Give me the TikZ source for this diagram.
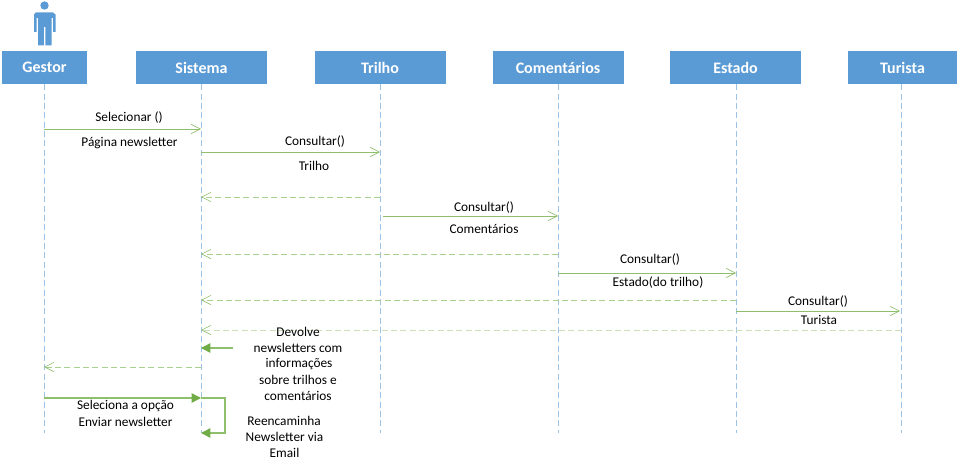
\documentclass[tikz,border=0pt]{standalone}
\usepackage{fontspec}
\setmainfont{Carlito}
\usetikzlibrary{arrows.meta}
\definecolor{hdr}{HTML}{5B9BD5}
\definecolor{lifec}{HTML}{9DC3E6}
\definecolor{grn}{HTML}{8FBF6C}
\definecolor{grnd}{HTML}{70AD47}
\definecolor{grnl}{HTML}{C9E0B6}
\definecolor{grnm}{HTML}{A9D18E}
\tikzset{
  x=0.75pt,y=-0.75pt,
  head/.style={fill=hdr,text=white,font=\bfseries\fontsize{12}{14}\selectfont,minimum height=24.75pt,inner sep=0pt,anchor=center},
  lifeline/.style={draw=lifec,dash pattern=on 4.5pt off 2.5pt,line width=.6pt},
  msg/.style={draw=grn,line width=.75pt,-{Straight Barb[length=7pt,width=7pt,line width=.5pt]}},
  ret/.style={draw=grnm,line width=.75pt,dash pattern=on 4.5pt off 2.5pt,-{Straight Barb[length=7pt,width=7pt,line width=.5pt,color=grn]}},
  sync/.style={draw=grn,line width=1.1pt,-{Triangle[length=7pt,width=7pt,color=grnd]}},
  lbl/.style={font=\fontsize{10}{12}\selectfont,text=black,inner sep=0pt,align=center},
}
\begin{document}
\begin{tikzpicture}
\useasboundingbox (0,0) rectangle (957,467);
% actor
\fill[hdr] (44.5,5.5) circle[radius=4.2];
\fill[hdr] (36,12.5) -- (53,12.5) -- (55.5,14.5) -- (55.5,32) -- (53,32) -- (53,18) -- (51.5,18) -- (51.5,45.5) -- (45.4,45.5) -- (45.4,27) -- (43.8,27) -- (43.8,45.5) -- (38,45.5) -- (38,18) -- (36.5,18) -- (36.5,32) -- (34,32) -- (34,14.5) -- cycle;
% heads
\node[head,minimum width=63.75pt] (g) at (44.5,67.5) {Gestor};
\node[head,minimum width=98.25pt] (s) at (201.5,67.5) {Sistema};
\node[head,minimum width=98.25pt] (t) at (380,67.5) {Trilho};
\node[head,minimum width=98.25pt] (c) at (558,67.5) {Comentários};
\node[head,minimum width=98.25pt] (e) at (735.5,67.5) {Estado};
\node[head,minimum width=81.75pt] (u) at (902.5,67.5) {Turista};
% lifeline ends
\coordinate (gb) at (44,433); \coordinate (sb) at (201,433); \coordinate (tb) at (380,433);
\coordinate (cb) at (558,433); \coordinate (eb) at (736,433); \coordinate (ub) at (901,433);
\draw[lifeline] (gb |- g.south) -- (gb);
\draw[lifeline] (sb |- s.south) -- (sb);
\draw[lifeline] (tb |- t.south) -- (tb);
\draw[lifeline] (cb |- c.south) -- (cb);
\draw[lifeline] (eb |- e.south) -- (eb);
\draw[lifeline] (ub |- u.south) -- (ub);
% free ends
\coordinate (tstart) at (383,216);
\coordinate (uend) at (900,311);
\coordinate (selfa) at (233,348);
\coordinate (loopa) at (225,398);
\coordinate (loopb) at (225,433);
% messages
\draw[msg] (gb |- 0,129) -- (sb |- 0,129);
\draw[msg] (sb |- 0,152) -- (tb |- 0,152);
\draw[ret] (tb |- 0,197) -- (sb |- 0,197);
\draw[msg] (tstart) -- (cb |- tstart);
\draw[ret] (cb |- 0,254) -- (sb |- 0,254);
\draw[msg] (cb |- 0,273) -- (eb |- 0,273);
\draw[ret] (eb |- 0,300) -- (sb |- 0,300);
\draw[msg] (eb |- uend) -- (uend);
\draw[ret,draw=grnl] (ub |- 0,330) -- (sb |- 0,330);
\draw[sync] (selfa) -- (sb |- selfa);
\draw[ret] (sb |- 0,367) -- (gb |- 0,367);
\draw[sync] (gb |- loopa) -- (sb |- loopa);
\draw[sync] (sb |- loopa) -- (loopa) -- (loopb) -- (sb |- loopb);
% labels
\node[lbl] (l1) at (129,118) {Selecionar ()};
\node[lbl] (l2) at (129.5,143) {Página newsletter};
\node[lbl] (l3) at (315,141.5) {Consultar()};
\node[lbl] (l4) at (314,166) {Trilho};
\node[lbl] (l5) at (484,207.5) {Consultar()};
\node[lbl] (l6) at (484,229) {Comentários};
\node[lbl] (l7) at (650,259.5) {Consultar()};
\node[lbl] (l8) at (658,283) {Estado(do trilho)};
\node[lbl] (l9) at (818,301.5) {Consultar()};
\node[lbl] (l10) at (819,320) {Turista};
\node[lbl] (l11) at (298,332) {Devolve};
\node[lbl] (l12) at (298,348) {newsletters com};
\node[lbl] (l13) at (299,364) {informações};
\node[lbl] (l14) at (298,380) {sobre trilhos e};
\node[lbl] (l15) at (298,396) {comentários};
\node[lbl] (l16) at (125.5,406) {Seleciona a opção};
\node[lbl] (l17) at (125.5,422) {Enviar newsletter};
\node[lbl] (l18) at (284,421) {Reencaminha};
\node[lbl] (l19) at (284.5,436.5) {Newsletter via};
\node[lbl] (l20) at (284.5,452.5) {Email};
\end{tikzpicture}
\end{document}
